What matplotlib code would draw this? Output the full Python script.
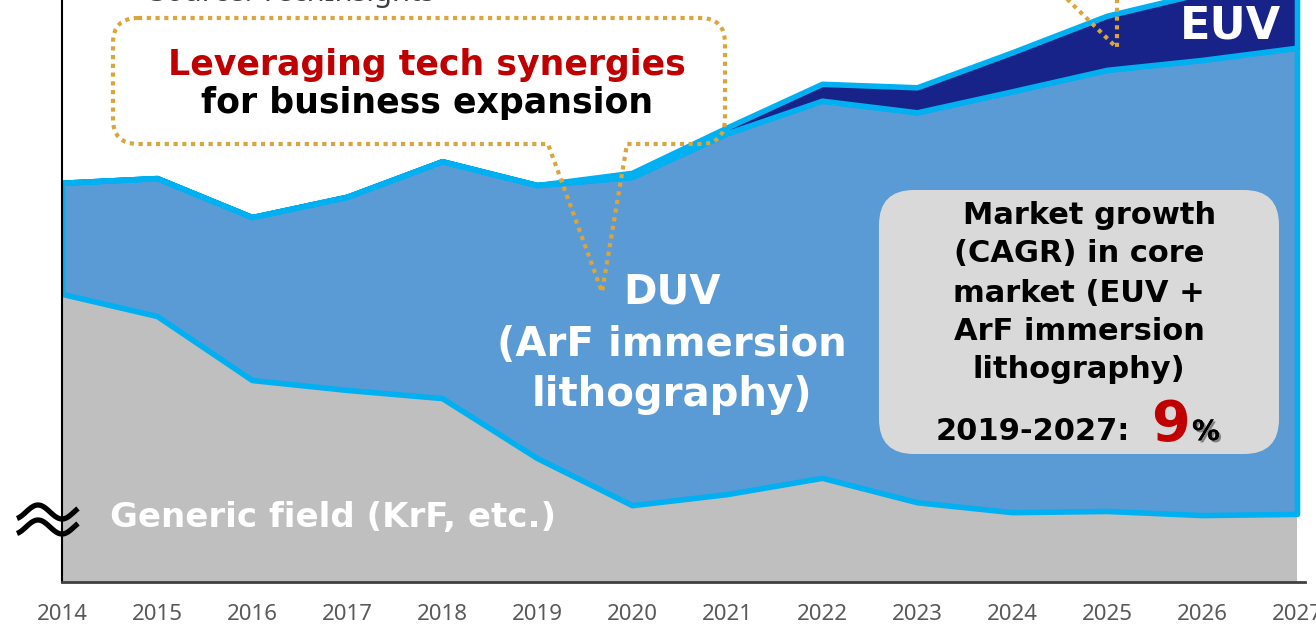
import matplotlib
matplotlib.use("Agg")
import matplotlib.pyplot as plt
import matplotlib.patheffects as pe
import numpy as np
from matplotlib.patches import FancyBboxPatch, PathPatch
from matplotlib.path import Path

# ---------------------------------------------------------------------------
# Data (index units, axis top = 100)
# ---------------------------------------------------------------------------
years = list(range(2014, 2028))
year_labels = [str(y) for y in years]
generic = [49.5, 45.7, 34.7, 33.0, 31.6, 21.3, 13.2, 15.1, 17.9, 13.7, 12.0, 12.2, 11.5, 11.7]
duv = [19.1, 23.7, 28.0, 33.2, 40.7, 46.9, 56.4, 62.0, 64.8, 67.0, 72.3, 75.8, 78.2, 80.1]
euv = [0, 0, 0, 0, 0, 0, 0.7, 1.0, 2.9, 4.3, 6.7, 9.3, 11.5, 15.1]

GRAY = "#BFBFBF"
DUV_BLUE = "#5B9BD5"
EUV_NAVY = "#172388"
CYAN = "#00B0F0"
GOLD = "#DAA53D"
RED = "#C00000"

W, H = 1316, 624
fig = plt.figure(figsize=(W / 100, H / 100), dpi=100)
ax = fig.add_axes([62 / W, 42 / H, (1305 - 62) / W, 582 / H])

x = np.array(years)
g = np.array(generic)
d = g + np.array(duv)
e = d + np.array(euv)

ax.fill_between(x, 0, g, facecolor=GRAY, edgecolor="none", zorder=1)
ax.fill_between(x, g, d, facecolor=DUV_BLUE, edgecolor=CYAN, linewidth=4, zorder=2)
ax.fill_between(x, d, e, facecolor=EUV_NAVY, edgecolor=CYAN, linewidth=4, zorder=3)

ax.set_xlim(2014, 2014 + (1305 - 62) / 95)
ax.set_ylim(0, 100)
ax.set_yticks([])
ax.set_xticks(years)
ax.set_xticklabels(year_labels, fontfamily="Noto Sans", fontsize=16, color="#595959")
ax.tick_params(axis="x", length=0, pad=16)
for s in ("top", "right"):
    ax.spines[s].set_visible(False)
ax.spines["left"].set_color("black")
ax.spines["left"].set_linewidth(1.5)
ax.spines["bottom"].set_color("#404040")
ax.spines["bottom"].set_linewidth(2)
for s in ax.spines.values():
    s.set_zorder(5)

# ---------------------------------------------------------------------------
# Annotation layer in pixel coordinates
# ---------------------------------------------------------------------------
ov = fig.add_axes([0, 0, 1, 1], zorder=10)
ov.set_xlim(0, W)
ov.set_ylim(H, 0)
ov.axis("off")
ov.patch.set_alpha(0)

# truncated source note at the very top
ov.text(150, 1.5, "Source: TechInsights", fontfamily="Noto Sans", fontsize=21,
        color="#404040", va="baseline", ha="left")

# dotted callout with tail
L, R, T, B, r = 113, 725, 18, 144, 25
verts = [
    (L + r, T), (R - r, T), (R, T), (R, T + r), (R, B - r), (R, B), (R - r, B),
    (627, B), (602, 292), (548, B), (L + r, B), (L, B), (L, B - r),
    (L, T + r), (L, T), (L + r, T),
]
codes = [
    Path.MOVETO, Path.LINETO, Path.CURVE3, Path.CURVE3, Path.LINETO, Path.CURVE3, Path.CURVE3,
    Path.LINETO, Path.LINETO, Path.LINETO, Path.LINETO, Path.CURVE3, Path.CURVE3,
    Path.LINETO, Path.CURVE3, Path.CURVE3,
]
ov.add_patch(PathPatch(Path(verts, codes), facecolor="none", edgecolor=GOLD,
                       linewidth=3, linestyle=(0, (1, 1.1))))
ov.text(427, 65, "Leveraging tech synergies", fontweight="bold",
        fontsize=25, color=RED, ha="center", va="center")
ov.text(427, 103, "for business expansion", fontweight="bold",
        fontsize=25, color="black", ha="center", va="center")

# tail of the second (cut-off) callout
ov.plot([1063, 1117], [-5, 48], color=GOLD, lw=3, ls=(0, (1, 1.1)))
ov.plot([1117, 1117], [-5, 48], color=GOLD, lw=3, ls=(0, (1, 1.1)))

# area labels
ov.text(1230, 26, "EUV", fontweight="bold", fontsize=32, color="white", ha="center", va="center")
for yy, s in zip([293, 345, 395], ["DUV", "(ArF immersion", "lithography)"]):
    ov.text(672, yy, s, fontweight="bold", fontsize=29, color="white", ha="center", va="center")
ov.text(110, 517, "Generic field (KrF, etc.)", fontweight="bold", fontsize=24.5,
        color="white", ha="left", va="center")

# CAGR box
ov.add_patch(FancyBboxPatch((879, 190), 400, 264, boxstyle="round,pad=0,rounding_size=35",
                            facecolor="#D9D9D9", edgecolor="none"))
box_lines = ["Market growth", "(CAGR) in core", "market (EUV +", "ArF immersion", "lithography)"]
box_x = [1090, 1079, 1079, 1079, 1079]
for xx, yy, s in zip(box_x, [215, 253, 293, 331, 369], box_lines):
    ov.text(xx, yy, s, fontweight="bold", fontsize=22, color="black", ha="center", va="center")
ov.text(1130, 440, "2019-2027:", fontweight="bold", fontsize=22, color="black",
        ha="right", va="baseline")
ov.text(1151, 440, "9", fontweight="bold", fontsize=40, color=RED, ha="left", va="baseline")
ov.text(1192, 440, "%", fontweight="bold", fontsize=20, color="black", ha="left", va="baseline",
        path_effects=[pe.withSimplePatchShadow(offset=(1.5, -1.5), alpha=0.4), pe.Normal()])

# axis break mark
xs = np.linspace(17, 78, 60)
wave = 7 * np.sin(2 * np.pi * (xs - 26) / 48)
for yc in (512, 527):
    ov.plot(xs, yc - wave, color="black", lw=3.8, solid_capstyle="butt")

fig.savefig("out.png", dpi=100)
